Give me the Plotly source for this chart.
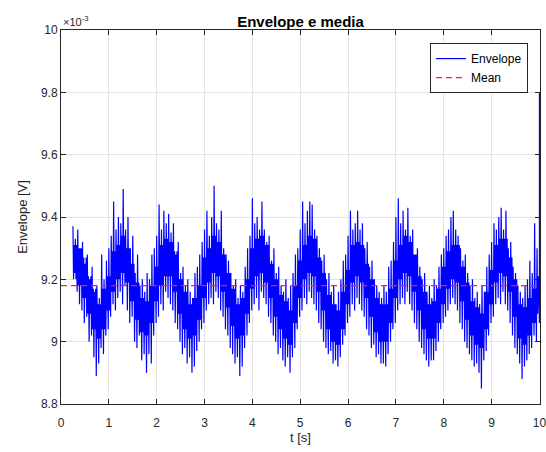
import plotly.graph_objects as go

# ---- data (values in units of 1e-3 V) ----
t_start = 0.25
dt = 0.05          # spacing of the extreme (spike) readings
# spike tops / bottoms read every 0.05 s
env_hi = [
    9.37, 9.33, 9.36, 9.30, 9.32, 9.25, 9.28, 9.20, 9.24, 9.16,
    9.18, 9.14, 9.28, 9.20, 9.26, 9.30, 9.34, 9.45, 9.36, 9.40,
    9.38, 9.49, 9.36, 9.40, 9.30, 9.34, 9.22, 9.28, 9.18, 9.20,
    9.16, 9.22, 9.20, 9.28, 9.30, 9.34, 9.44, 9.36, 9.42, 9.38,
    9.41, 9.35, 9.38, 9.28, 9.32, 9.22, 9.24, 9.18, 9.20, 9.16,
    9.14, 9.22, 9.24, 9.28, 9.32, 9.36, 9.42, 9.34, 9.40, 9.50,
    9.38, 9.36, 9.42, 9.30, 9.28, 9.26, 9.22, 9.18, 9.20, 9.14,
    9.18, 9.16, 9.24, 9.30, 9.34, 9.46, 9.38, 9.40, 9.36, 9.45,
    9.36, 9.32, 9.34, 9.26, 9.30, 9.22, 9.24, 9.18, 9.16, 9.20,
    9.14, 9.18, 9.22, 9.28, 9.30, 9.36, 9.45, 9.38, 9.42, 9.45,
    9.44, 9.36, 9.34, 9.30, 9.26, 9.28, 9.20, 9.22, 9.16, 9.18,
    9.12, 9.16, 9.20, 9.26, 9.28, 9.34, 9.42, 9.36, 9.38, 9.42,
    9.36, 9.38, 9.30, 9.32, 9.24, 9.26, 9.20, 9.18, 9.16, 9.14,
    9.18, 9.16, 9.24, 9.26, 9.32, 9.40, 9.46, 9.38, 9.42, 9.36,
    9.43, 9.34, 9.36, 9.28, 9.30, 9.24, 9.20, 9.22, 9.16, 9.18,
    9.14, 9.20, 9.18, 9.24, 9.28, 9.30, 9.34, 9.36, 9.40, 9.42,
    9.36, 9.34, 9.30, 9.26, 9.28, 9.22, 9.18, 9.20, 9.14, 9.16,
    9.12, 9.18, 9.16, 9.24, 9.28, 9.32, 9.38, 9.36, 9.40, 9.43,
    9.36, 9.42, 9.30, 9.32, 9.24, 9.22, 9.18, 9.16, 9.14, 9.18,
    9.20, 9.26, 9.22, 9.38, 9.30,
]
env_lo = [
    9.22, 9.16, 9.12, 9.10, 9.06, 9.08, 9.00, 9.02, 8.95, 8.89,
    8.93, 8.98, 8.96, 9.02, 9.04, 9.08, 9.12, 9.10, 9.14, 9.16,
    9.12, 9.18, 9.10, 9.06, 9.08, 9.00, 8.98, 9.02, 8.94, 8.96,
    8.90, 8.96, 8.93, 9.02, 9.06, 9.08, 9.12, 9.10, 9.16, 9.14,
    9.12, 9.10, 9.06, 9.04, 9.00, 8.96, 8.98, 8.93, 8.95, 8.90,
    8.92, 8.97, 9.00, 9.04, 9.06, 9.10, 9.12, 9.14, 9.12, 9.16,
    9.14, 9.10, 9.08, 9.04, 9.02, 8.98, 8.96, 8.93, 8.95, 8.89,
    8.92, 8.98, 9.02, 9.06, 9.10, 9.12, 9.14, 9.10, 9.16, 9.14,
    9.12, 9.08, 9.06, 9.02, 9.00, 8.96, 8.98, 8.94, 8.92, 8.95,
    8.90, 8.95, 8.98, 9.04, 9.08, 9.10, 9.14, 9.12, 9.16, 9.14,
    9.12, 9.10, 9.06, 9.04, 9.00, 8.98, 8.96, 8.97, 8.93, 8.94,
    8.92, 8.95, 8.99, 9.02, 9.06, 9.08, 9.12, 9.10, 9.14, 9.12,
    9.10, 9.08, 9.04, 9.02, 8.98, 8.99, 8.95, 8.96, 8.93, 8.93,
    8.92, 8.96, 9.00, 9.04, 9.06, 9.10, 9.12, 9.14, 9.12, 9.16,
    9.12, 9.10, 9.06, 9.04, 9.00, 8.98, 8.96, 8.94, 8.92, 8.94,
    8.94, 8.97, 9.00, 9.04, 9.06, 9.08, 9.10, 9.12, 9.14, 9.12,
    9.10, 9.06, 9.04, 9.00, 8.98, 8.96, 8.94, 8.92, 8.93, 8.90,
    8.85, 8.94, 8.97, 9.02, 9.06, 9.08, 9.12, 9.14, 9.12, 9.16,
    9.12, 9.10, 9.06, 9.02, 8.98, 8.96, 8.93, 8.88, 8.92, 8.94,
    8.96, 8.98, 9.02, 9.00, 9.06,
]
# edges of the dense core band, read every 0.10 s
core_hi = [
    9.31, 9.30, 9.27, 9.21, 9.17, 9.12, 9.17, 9.21, 9.29, 9.31,
    9.34, 9.30, 9.25, 9.19, 9.14, 9.13, 9.18, 9.24, 9.31, 9.33,
    9.32, 9.29, 9.20, 9.16, 9.12, 9.14, 9.18, 9.27, 9.30, 9.34,
    9.32, 9.28, 9.22, 9.17, 9.12, 9.14, 9.20, 9.30, 9.33, 9.34,
    9.31, 9.25, 9.20, 9.15, 9.13, 9.10, 9.18, 9.26, 9.31, 9.34,
    9.33, 9.27, 9.22, 9.15, 9.12, 9.10, 9.16, 9.23, 9.31, 9.32,
    9.31, 9.25, 9.20, 9.14, 9.12, 9.12, 9.17, 9.26, 9.31, 9.34,
    9.32, 9.28, 9.21, 9.16, 9.12, 9.13, 9.17, 9.24, 9.29, 9.31,
    9.31, 9.24, 9.19, 9.13, 9.11, 9.09, 9.16, 9.23, 9.31, 9.33,
    9.33, 9.27, 9.20, 9.12, 9.11, 9.14, 9.17, 9.21,
]
core_lo = [
    9.20, 9.18, 9.14, 9.09, 9.04, 9.01, 9.04, 9.10, 9.16, 9.20,
    9.22, 9.19, 9.13, 9.07, 9.03, 9.02, 9.06, 9.13, 9.18, 9.21,
    9.21, 9.16, 9.09, 9.04, 9.01, 9.02, 9.07, 9.14, 9.19, 9.22,
    9.21, 9.16, 9.11, 9.05, 9.01, 9.02, 9.09, 9.17, 9.21, 9.22,
    9.19, 9.14, 9.08, 9.04, 9.01, 8.99, 9.06, 9.14, 9.20, 9.22,
    9.21, 9.16, 9.10, 9.04, 9.00, 8.99, 9.04, 9.12, 9.19, 9.21,
    9.19, 9.14, 9.08, 9.03, 9.00, 9.00, 9.06, 9.14, 9.20, 9.22,
    9.21, 9.16, 9.10, 9.04, 9.01, 9.01, 9.06, 9.12, 9.17, 9.20,
    9.19, 9.13, 9.07, 9.02, 8.99, 8.98, 9.04, 9.12, 9.19, 9.22,
    9.21, 9.16, 9.08, 9.01, 8.99, 9.02, 9.06, 9.09,
]
end_t = 10.0
end_value = 9.80
mean_value = 9.18
mean_span = [0.0, 10.0]

x_ticks = [0, 1, 2, 3, 4, 5, 6, 7, 8, 9, 10]
y_ticks = [8.8, 9.0, 9.2, 9.4, 9.6, 9.8, 10.0]
y_tick_labels = ["8.8", "9", "9.2", "9.4", "9.6", "9.8", "10"]

# put the readings in time order: spike top, core bottom, core top, spike bottom
t_env, v_env = [], []
for i in range(len(env_hi)):
    t0 = t_start + i * dt
    t_env += [t0, t0 + dt * 0.25, t0 + dt * 0.5, t0 + dt * 0.75]
    v_env += [env_hi[i], core_lo[i // 2], core_hi[i // 2], env_lo[i]]
t_env += [end_t, end_t]
v_env += [env_lo[-1], end_value]

FONT = "Liberation Sans, Arial, sans-serif"
AX = "#262626"
GRID = "#e3e3e3"

fig = go.Figure()
fig.add_trace(go.Scatter(x=t_env, y=v_env, mode="lines", name="Envelope",
                         line=dict(color="#0000ff", width=1.2)))
fig.add_trace(go.Scatter(x=mean_span, y=[mean_value, mean_value], mode="lines",
                         name="Mean",
                         line=dict(color="#ff2020", width=1.3, dash="6px,4px")))

axis_common = dict(showline=True, linecolor=AX, linewidth=1, mirror="ticks",
                   ticks="inside", ticklen=5, tickcolor=AX,
                   showgrid=True, gridcolor=GRID, gridwidth=1,
                   zeroline=False, ticklabeloverflow="allow", automargin=False,
                   layer="below traces",
                   tickfont=dict(family=FONT, size=12, color=AX))

fig.update_layout(
    width=546, height=452,
    margin=dict(l=61, r=6, t=30, b=48),
    paper_bgcolor="white", plot_bgcolor="white",
    font=dict(family=FONT, size=12, color=AX),
    title=dict(text="<b>Envelope e media</b>", x=0.5, xref="paper",
               y=1, yref="paper", yanchor="bottom", pad=dict(b=3),
               font=dict(family=FONT, size=15, color="#000000")),
    xaxis=dict(range=[0, 10.012], tickvals=x_ticks, ticklabelstandoff=8,
               title=dict(text="t [s]", standoff=3,
                          font=dict(family=FONT, size=13, color=AX)),
               **axis_common),
    yaxis=dict(range=[8.8, 10.0], tickvals=y_ticks, ticktext=y_tick_labels,
               title=dict(text="Envelope [V]", standoff=10,
                          font=dict(family=FONT, size=13, color=AX)),
               **axis_common),
    legend=dict(x=0.975, y=0.965, xanchor="right", yanchor="top",
                bgcolor="white", bordercolor=AX, borderwidth=1,
                font=dict(family=FONT, size=12, color="#000000"),
                tracegroupgap=0, itemwidth=30),
    showlegend=True,
)
fig.add_annotation(text="×10<sup>-3</sup>", xref="paper", yref="paper",
                   x=0.0, y=1.0, xanchor="left", yanchor="bottom",
                   showarrow=False, font=dict(family=FONT, size=11, color=AX))

fig.write_html("out.html")
